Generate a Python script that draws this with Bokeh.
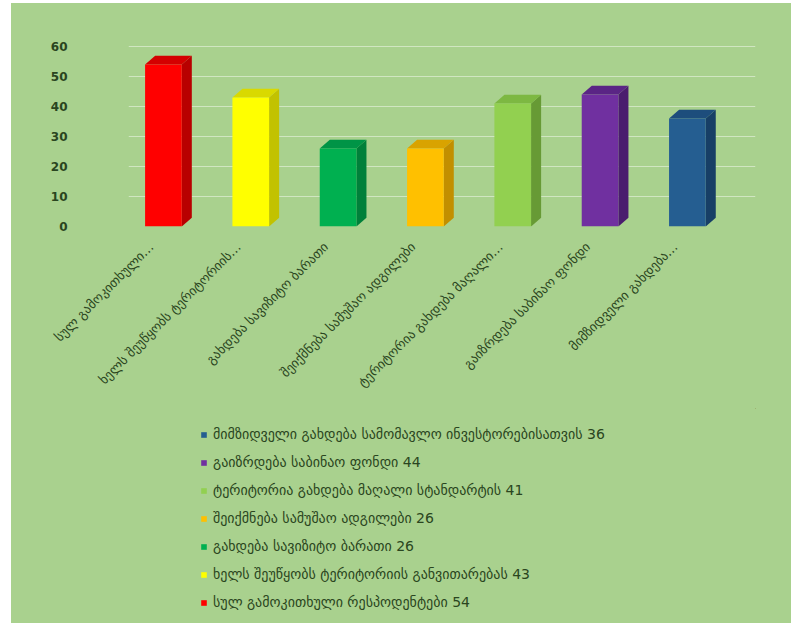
import math
from bokeh.plotting import figure
from bokeh.layouts import column
from bokeh.models import (ColumnDataSource, Legend, LegendItem, FixedTicker, Range1d,
                          LinearAxis)
from bokeh.embed import file_html
from bokeh.resources import INLINE

# ---- data ----
categories = [
    "სულ გამოკითხული…",
    "ხელს შეუწყობს ტერიტორიის…",
    "გახდება სავიზიტო ბარათი",
    "შეიქმნება სამუშაო ადგილები",
    "ტერიტორია გახდება მაღალი…",
    "გაიზრდება საბინაო ფონდი",
    "მიმზიდველი გახდება…",
]
legend_labels = [
    "სულ გამოკითხული რესპოდენტები 54",
    "ხელს შეუწყობს ტერიტორიის განვითარებას 43",
    "გახდება სავიზიტო ბარათი 26",
    "შეიქმნება სამუშაო ადგილები 26",
    "ტერიტორია გახდება მაღალი სტანდარტის 41",
    "გაიზრდება საბინაო ფონდი 44",
    "მიმზიდველი გახდება სამომავლო ინვესტორებისათვის 36",
]
values = [54, 43, 26, 26, 41, 44, 36]
colors = ["#ff0000", "#ffff00", "#00b050", "#ffc000", "#92d050", "#7030a0", "#255e91"]
side_colors = ["#b80000", "#c2c200", "#00803a", "#c28f00", "#679a35", "#4a1d6e", "#173f66"]
top_colors = ["#d40000", "#d9d900", "#009446", "#d9a300", "#7db842", "#5a2585", "#1d4d7c"]
y_ticks = [0, 10, 20, 30, 40, 50, 60]

# ---- geometry ----
positions = list(range(1, len(values) + 1))
W = 0.42
DX = 0.115
DY = 2.9
X0, X1 = 0.60, 7.78
LABEL_SHIFT = 0.14

side_xs, side_ys, top_xs, top_ys = [], [], [], []
for x, v in zip(positions, values):
    r = x + W / 2
    l = x - W / 2
    side_xs.append([r, r + DX, r + DX, r])
    side_ys.append([0, DY, v + DY, v])
    top_xs.append([l, l + DX, r + DX, r])
    top_ys.append([v, v + DY, v + DY, v])

BG = "#a9d18e"
TXT = "#2a4520"
FONT = "DejaVu Sans"

src = ColumnDataSource(dict(x=positions, top=values, color=colors))

p = figure(
    width=780, height=405,
    x_range=Range1d(X0, X1), y_range=Range1d(0, 64),
    x_axis_location=None,
    output_backend="svg", toolbar_location=None,
    min_border_left=117, min_border_right=36, min_border_top=31, min_border_bottom=182,
)
p.background_fill_alpha = 0
p.border_fill_alpha = 0
p.outline_line_color = None

p.ygrid.grid_line_color = "white"
p.ygrid.grid_line_alpha = 0.45
p.ygrid.ticker = FixedTicker(ticks=y_ticks)

p.patches(side_xs, side_ys, fill_color=side_colors, line_color=None)
p.patches(top_xs, top_ys, fill_color=top_colors, line_color=None)
p.vbar(x="x", top="top", width=W, bottom=0, fill_color="color", line_color=None, source=src)

p.yaxis.ticker = FixedTicker(ticks=y_ticks)
p.yaxis.axis_line_color = None
p.yaxis.major_tick_line_color = None
p.yaxis.minor_tick_line_color = None
p.yaxis.major_label_standoff = 55
p.yaxis.major_label_text_font = FONT
p.yaxis.major_label_text_font_size = "12px"
p.yaxis.major_label_text_font_style = "bold"
p.yaxis.major_label_text_color = TXT

# category labels on a slightly shifted range (perspective look)
p.extra_x_ranges = {"lab": Range1d(X0 + LABEL_SHIFT, X1 + LABEL_SHIFT)}
xaxis = LinearAxis(x_range_name="lab")
xaxis.ticker = FixedTicker(ticks=positions)
xaxis.major_label_overrides = {x: c for x, c in zip(positions, categories)}
xaxis.major_label_orientation = math.pi / 4
xaxis.axis_line_color = None
xaxis.major_tick_line_color = None
xaxis.minor_tick_line_color = None
xaxis.major_label_standoff = 12
xaxis.major_label_text_font = FONT
xaxis.major_label_text_font_size = "13px"
xaxis.major_label_text_color = TXT
p.add_layout(xaxis, "below")
p.xgrid.grid_line_color = None

# ---- legend panel ----
q = figure(
    width=780, height=215,
    x_range=Range1d(-10, -9), y_range=Range1d(-10, -9),
    output_backend="svg", toolbar_location=None,
    min_border=0, min_border_left=0, min_border_right=0, min_border_top=0, min_border_bottom=0,
)
q.axis.visible = False
q.grid.grid_line_color = None
q.background_fill_alpha = 0
q.border_fill_alpha = 0
q.outline_line_color = None
lbars = q.vbar(x="x", top="top", width=0.1, bottom=0, fill_color="color", line_color=None, source=src)

items = [LegendItem(label=legend_labels[i], renderers=[lbars], index=i) for i in reversed(range(len(values)))]
legend = Legend(items=items, location=(72, 11), orientation="vertical")
legend.background_fill_alpha = 0
legend.border_line_color = None
legend.label_text_font = FONT
legend.label_text_font_size = "14px"
legend.label_text_color = TXT
legend.glyph_width = 7
legend.glyph_height = 7
legend.label_height = 20
legend.label_standoff = 6
legend.spacing = 8
legend.padding = 0
legend.margin = 0
q.add_layout(legend, "center")

layout = column(p, q, spacing=0, margin=(3, 0, 0, 11), styles={"background-color": BG})
open("out.html", "w").write(file_html(layout, INLINE))
